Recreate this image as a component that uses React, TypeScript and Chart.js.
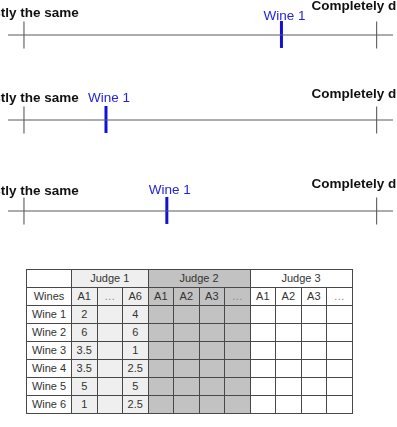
import React, { useEffect, useRef } from "react";
import { Chart, registerables } from "chart.js";

Chart.register(...registerables);

// ---- Number-line data ----
const scaleEnds = [0, 1];
const endLabels = ["Exactly the same", "Completely different"];
const wineLabel = "Wine 1";
const winePositions = [0.73, 0.2325, 0.405];

// ---- Table data ----
const judges = ["Judge 1", "Judge 2", "Judge 3"];
const judgeColumns = [
  ["A1", "…", "A6"],
  ["A1", "A2", "A3", "…"],
  ["A1", "A2", "A3", "…"],
];
const wineNames = ["Wine 1", "Wine 2", "Wine 3", "Wine 4", "Wine 5", "Wine 6"];
const judge1A1 = ["2", "6", "3.5", "3.5", "5", "1"];
const judge1A6 = ["4", "6", "1", "2.5", "5", "2.5"];

// ---- Layout / style (not data) ----
const AXIS_MIN = -0.068;
const AXIS_MAX = 1.0576;
const LINE_FROM = -0.0454;
const LINE_TO = 1.0462;
const rowLayouts = [
  { top: 0, leftDy: -18, rightDy: -25.4, wineDy: -14.7 },
  { top: 85, leftDy: -17.6, rightDy: -22, wineDy: -17.6 },
  { top: 176, leftDy: -16, rightDy: -22.7, wineDy: -16.7 },
];
const FONT = '"Liberation Sans", Arial, Helvetica, sans-serif';
const judgeBg = ["#efefef", "#c2c2c2", "#ffffff"];

function NumberLine({ pos, layout }: { pos: number; layout: any }) {
  const ref = useRef<HTMLCanvasElement | null>(null);
  useEffect(() => {
    if (!ref.current) return;
    const labelsPlugin = {
      id: "lineLabels",
      afterDatasetsDraw(chart: any) {
        const { ctx, scales } = chart;
        const x = scales.x;
        const y = scales.y;
        const by = y.getPixelForValue(0);
        ctx.save();
        ctx.textAlign = "center";
        ctx.textBaseline = "alphabetic";
        ctx.font = `bold 13.5px ${FONT}`;
        ctx.fillStyle = "#111111";
        ctx.fillText(endLabels[0], x.getPixelForValue(scaleEnds[0]), by + layout.leftDy);
        ctx.fillText(endLabels[1], x.getPixelForValue(scaleEnds[1]), by + layout.rightDy);
        ctx.font = `13.5px ${FONT}`;
        ctx.fillStyle = "#2424dc";
        ctx.fillText(wineLabel, x.getPixelForValue(pos) + 3, by + layout.wineDy);
        ctx.restore();
      },
    };
    const common = { showLine: true, pointRadius: 0, pointHoverRadius: 0, clip: false as any, borderCapStyle: "butt" };
    const chart = new Chart(ref.current, {
      type: "scatter",
      data: {
        datasets: [
          { ...common, data: [{ x: LINE_FROM, y: 0 }, { x: LINE_TO, y: 0 }], borderColor: "#5a5a5a", borderWidth: 1 },
          ...scaleEnds.map((v) => ({
            ...common,
            data: [{ x: v, y: -1 }, { x: v, y: 1 }],
            borderColor: "#4a4a4a",
            borderWidth: 1,
          })),
          { ...common, data: [{ x: pos, y: -0.96 }, { x: pos, y: 1.04 }], borderColor: "#1212d6", borderWidth: 3 },
        ] as any,
      },
      options: {
        responsive: false,
        animation: false,
        layout: { padding: { left: 0, right: 0, top: 21.5, bottom: 21.5 } },
        scales: {
          x: { type: "linear", min: AXIS_MIN, max: AXIS_MAX, display: false },
          y: { type: "linear", min: -1, max: 1, display: false },
        },
        plugins: { legend: { display: false }, tooltip: { enabled: false } },
        events: [],
      } as any,
      plugins: [labelsPlugin],
    });
    return () => chart.destroy();
  }, [pos, layout]);
  return (
    <canvas
      ref={ref}
      width={397}
      height={70}
      style={{ position: "absolute", left: 0, top: layout.top, width: 397, height: 70 }}
    />
  );
}

const cellBase: React.CSSProperties = {
  border: "1px solid #484848",
  padding: 0,
  height: 17,
  textAlign: "center",
  verticalAlign: "middle",
  fontSize: 11,
  color: "#333",
  fontFamily: FONT,
  lineHeight: "17px",
};

function WineTable() {
  const colWidths = [45, ...judgeColumns.flat().map(() => 25.5)];
  return (
    <table
      style={{
        position: "absolute",
        left: 26,
        top: 269,
        borderCollapse: "collapse",
        tableLayout: "fixed",
        width: colWidths.reduce((a, b) => a + b, 0),
      }}
    >
      <colgroup>
        {colWidths.map((w, i) => (
          <col key={i} style={{ width: w }} />
        ))}
      </colgroup>
      <tbody>
        <tr>
          <td style={{ ...cellBase, background: "#fff" }}></td>
          {judges.map((j, ji) => (
            <td key={j} colSpan={judgeColumns[ji].length} style={{ ...cellBase, background: judgeBg[ji] }}>
              {j}
            </td>
          ))}
        </tr>
        <tr>
          <td style={{ ...cellBase, background: "#fff" }}>Wines</td>
          {judgeColumns.map((cols, ji) =>
            cols.map((c, ci) => (
              <td
                key={`${ji}-${ci}`}
                style={{ ...cellBase, background: judgeBg[ji], color: c === "…" ? "#888" : "#333" }}
              >
                {c}
              </td>
            ))
          )}
        </tr>
        {wineNames.map((w, wi) => (
          <tr key={w}>
            <td style={{ ...cellBase, background: "#fff" }}>{w}</td>
            {judgeColumns.map((cols, ji) =>
              cols.map((c, ci) => {
                let v = "";
                if (ji === 0 && ci === 0) v = judge1A1[wi];
                if (ji === 0 && ci === 2) v = judge1A6[wi];
                return (
                  <td key={`${ji}-${ci}`} style={{ ...cellBase, background: judgeBg[ji] }}>
                    {v}
                  </td>
                );
              })
            )}
          </tr>
        ))}
      </tbody>
    </table>
  );
}

export default function App() {
  return (
    <div
      style={{
        position: "absolute",
        left: 0,
        top: 0,
        width: 397,
        height: 427,
        background: "#ffffff",
        overflow: "hidden",
      }}
    >
      {winePositions.map((p, i) => (
        <NumberLine key={i} pos={p} layout={rowLayouts[i]} />
      ))}
      <WineTable />
    </div>
  );
}
